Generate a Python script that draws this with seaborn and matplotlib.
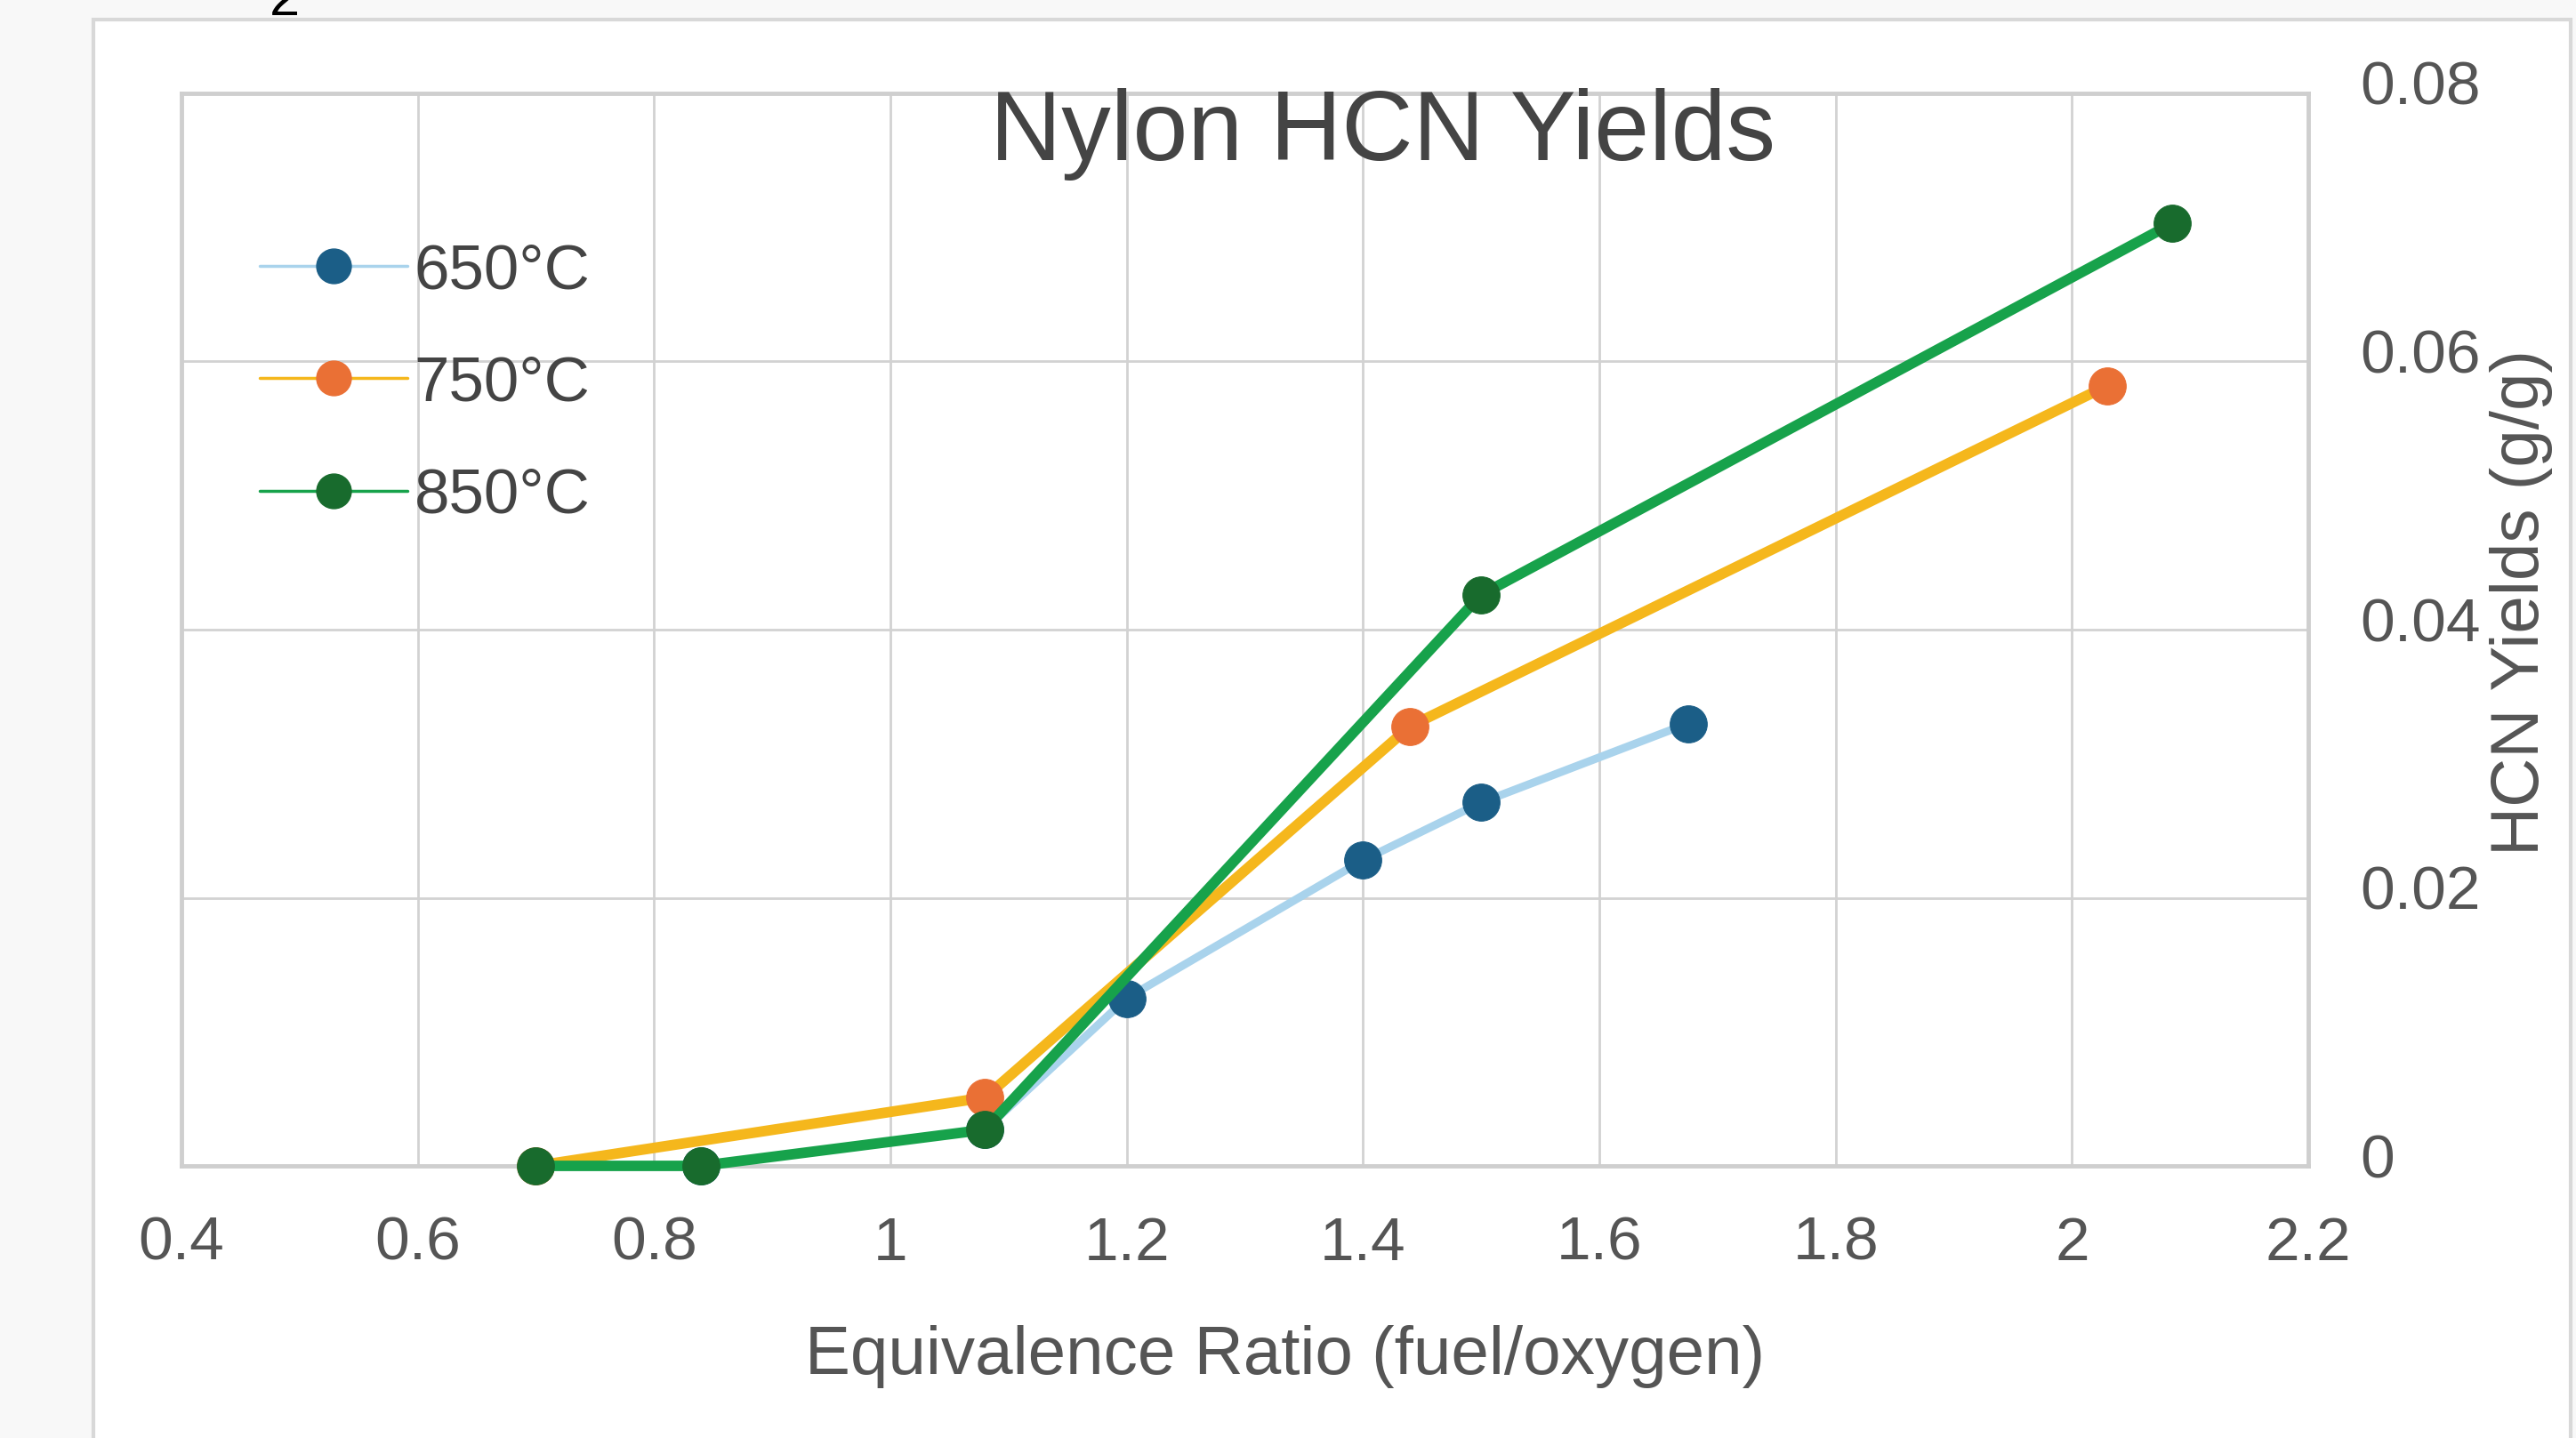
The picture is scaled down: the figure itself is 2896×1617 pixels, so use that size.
import numpy as np
import pandas as pd
import seaborn as sns
import matplotlib.pyplot as plt
from matplotlib.lines import Line2D
from matplotlib.patches import Rectangle
import matplotlib.transforms as mtransforms

# data
temps = ['650°C', '750°C', '850°C']
x_650 = [0.84, 1.08, 1.2, 1.4, 1.5, 1.675]
y_650 = [0.0, 0.0027, 0.0125, 0.0228, 0.0271, 0.0330]
x_750 = [0.7, 1.08, 1.44, 2.03]
y_750 = [0.0, 0.0051, 0.0328, 0.0582]
x_850 = [0.7, 0.84, 1.08, 1.5, 2.085]
y_850 = [0.0, 0.0, 0.0027, 0.0426, 0.0703]
x_ticks = [0.4, 0.6, 0.8, 1.0, 1.2, 1.4, 1.6, 1.8, 2.0, 2.2]
x_ticklabels = ['0.4', '0.6', '0.8', '1', '1.2', '1.4', '1.6', '1.8', '2', '2.2']
y_ticks = [0, 0.02, 0.04, 0.06, 0.08]
y_ticklabels = ['0', '0.02', '0.04', '0.06', '0.08']

line_colors = ['#a9d3ec', '#f5b71c', '#17a24b']
marker_colors = ['#1b5e87', '#ea7035', '#186b2d']
line_widths = [6.5, 8.5, 8.5]

sns.set_theme(style='white')
plt.rcParams['font.family'] = ['Liberation Sans', 'DejaVu Sans']

fig = plt.figure(figsize=(28.96, 16.17), dpi=100)
fig.patch.set_facecolor('#f8f8f8')

# screenshot frame
fig.patches.append(Rectangle((105 / 2896, -0.1), (2890 - 105) / 2896, 1.1 - 22 / 1617,
                             transform=fig.transFigure, facecolor='white',
                             edgecolor='#d8d8d8', linewidth=3, zorder=0))
fig.text(320 / 2896, 1 - 30 / 1617, '2', fontsize=44, color='black',
         ha='center', va='bottom')

ax = fig.add_axes([204 / 2896, 306 / 1617, (2595 - 204) / 2896, (1311 - 105) / 1617])
ax.set_zorder(2)
ax.set_facecolor('white')

series = [(x_650, y_650), (x_750, y_750), (x_850, y_850)]
for i, (xs, ys) in enumerate(series):
    df = pd.DataFrame({'x': xs, 'y': ys})
    sns.lineplot(data=df, x='x', y='y', ax=ax, color=line_colors[i],
                 linewidth=line_widths[i], marker='o', markersize=30,
                 markerfacecolor=marker_colors[i], markeredgecolor=marker_colors[i],
                 zorder=3 + i, clip_on=False)

ax.set_xlim(0.4, 2.2)
ax.set_ylim(0, 0.08)
ax.set_xticks(x_ticks)
ax.set_xticklabels(x_ticklabels)
ax.set_yticks(y_ticks)
ax.set_yticklabels(y_ticklabels)
ax.yaxis.tick_right()
ax.yaxis.set_label_position('right')
ax.grid(True, color='#d2d2d2', linewidth=2)
for s in ax.spines.values():
    s.set_color('#cfcfcf')
    s.set_linewidth(3.5)
ax.tick_params(axis='x', length=0, pad=40, labelsize=50, labelcolor='#555555')
ax.tick_params(axis='y', length=0, pad=42, labelsize=50, labelcolor='#555555')
for lab in ax.get_yticklabels():
    lab.set_horizontalalignment('left')
    lab.set_transform(lab.get_transform() +
                      mtransforms.ScaledTranslation(0, 0.12, fig.dpi_scale_trans))

ax.set_xlabel('Equivalence Ratio (fuel/oxygen)', fontsize=55, color='#555555', va='center')
ax.xaxis.set_label_coords(0.519, -0.178)
ax.set_ylabel('HCN Yields (g/g)', fontsize=55, color='#555555', va='center', rotation=90)
ax.yaxis.set_label_coords(1.100, 0.525)

ax.text(0.565, 0.962, 'Nylon HCN Yields', transform=ax.transAxes, fontsize=80,
        color='#444444', ha='center', va='center', zorder=10)

handles = [Line2D([0], [0], color=line_colors[i], linewidth=2.5, marker='o',
                  markersize=28, markerfacecolor=marker_colors[i],
                  markeredgecolor=marker_colors[i]) for i in range(3)]
ax.legend(handles, temps, loc='upper left', bbox_to_anchor=(0.022, 0.89),
          frameon=False, fontsize=51, handlelength=2.35, handletextpad=0.1,
          labelspacing=0.85, borderpad=0, labelcolor='#444444')

fig.savefig('out.png', dpi=100, facecolor=fig.get_facecolor())
